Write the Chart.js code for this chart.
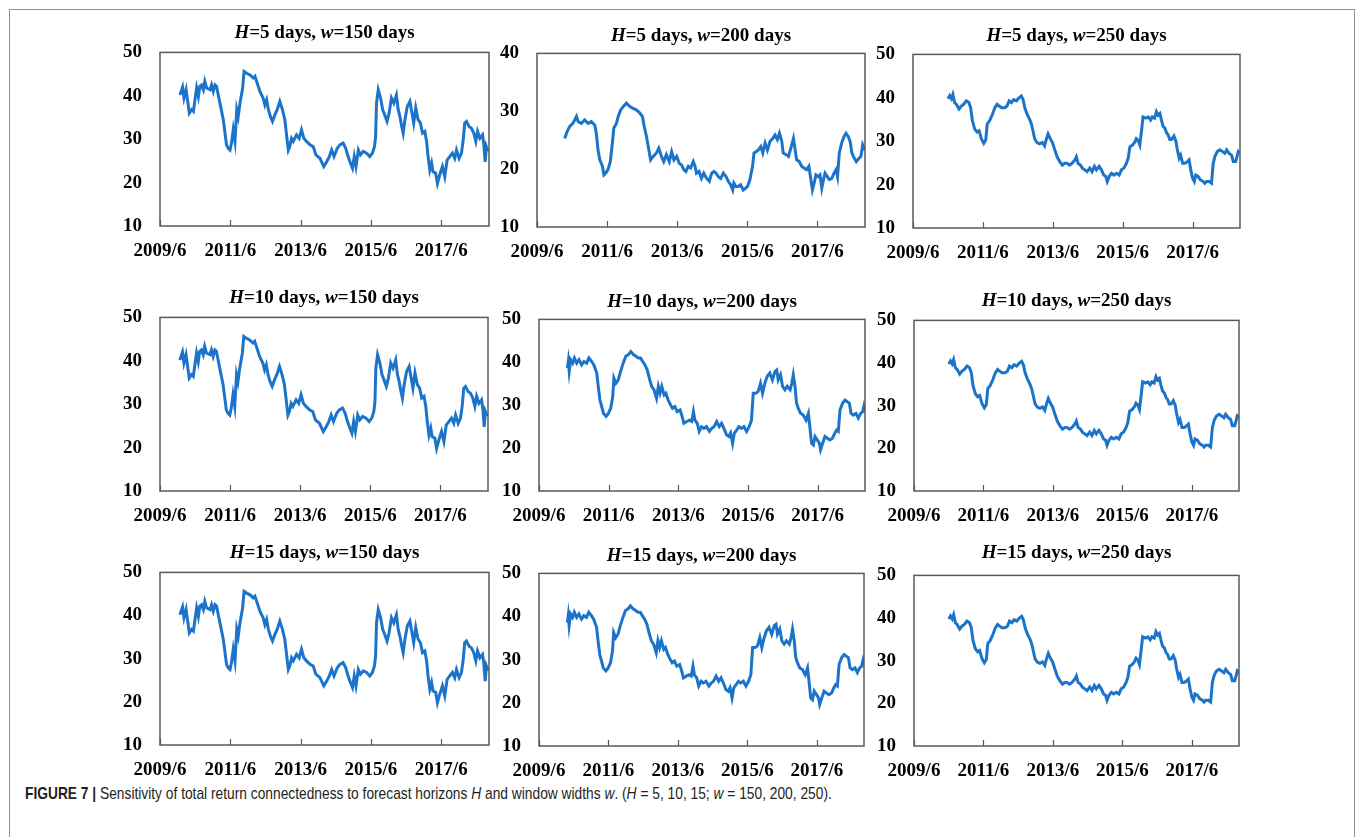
<!DOCTYPE html>
<html>
<head>
<meta charset="utf-8">
<script src="https://cdn.jsdelivr.net/npm/chart.js@4.4.1/dist/chart.umd.min.js"></script>
<style>
  html, body { margin: 0; padding: 0; background: #fff; }
  body { position: relative; width: 1355px; height: 837px; overflow: hidden; }
  .frame { position: absolute; left: 9px; top: 9px; width: 1344px; height: 900px;
           border: 1px solid #8f8f8f; border-bottom: none; }
  canvas { position: absolute; }
  .ttl { position: absolute; transform: translate(-50%, -50%); white-space: nowrap;
         font: bold 19px "Liberation Serif", "Times New Roman", serif; color: #000; line-height: 22px; }
  .caption { position: absolute; left: 25px; top: 784px; white-space: nowrap; color: #231f20;
             font: 17px "Liberation Sans", Arial, sans-serif;
             transform: scaleX(0.81); transform-origin: 0 0; }
  .caption b { font-weight: bold; }
</style>
</head>
<body>
<div class="frame"></div>
<div class="caption"><b>FIGURE 7 |</b> Sensitivity of total return connectedness to forecast horizons <i>H</i> and window widths <i>w</i>. (<i>H</i> = 5, 10, 15; <i>w</i> = 150, 200, 250).</div>

<script>
// x values are months since 2009/6
let tickMonths = [0, 24, 48, 72, 96];
let tickLabels = ['2009/6', '2011/6', '2013/6', '2015/6', '2017/6'];

// w = 150 days (same for H = 5, 10, 15)
let monthsW150 = [6.8,7.7,8.2,8.9,9.7,10.0,10.8,11.4,12.5,13.1,13.6,14.2,14.8,15.3,15.9,17.1,17.6,18.2,18.8,19.3,
  19.9,20.7,21.6,22.2,22.7,23.3,23.9,24.4,25.0,25.6,26.2,26.7,27.3,27.9,28.2,28.7,29.6,30.7,31.8,32.4,
  33.0,34.1,35.2,35.8,36.4,37.0,37.7,38.4,39.2,40.0,40.9,41.8,42.6,43.2,43.8,44.3,44.9,45.5,46.6,47.5,
  48.3,49.1,50.0,51.2,52.3,53.2,54.6,55.9,56.9,57.8,58.6,59.4,60.5,61.4,62.5,63.4,64.2,65.0,65.7,66.3,
  66.9,67.7,68.4,69.4,70.5,71.6,72.5,73.2,73.6,73.9,74.5,75.3,76.0,76.7,77.5,78.2,79.0,79.8,80.7,81.3,
  81.9,82.4,83.0,83.6,84.4,85.3,85.8,86.6,87.3,88.1,88.9,89.6,90.4,91.0,91.5,92.1,92.7,93.2,94.1,94.7,
  95.5,96.4,97.2,98.0,98.9,99.8,100.6,101.2,102.1,102.9,103.5,104.0,104.6,105.5,106.3,107.1,107.8,108.4,109.2,110.1,
  110.5,111.0,111.4,112.0];
let valuesW150 = [40.2,42.0,39.5,41.4,37.5,36.0,36.8,36.4,41.8,39.8,42.2,42.5,41.4,43.3,41.8,41.4,42.5,41.0,42.5,42.2,
  40.2,37.5,34.5,31.4,28.7,27.9,27.5,29.1,32.2,29.5,36.8,35.2,38.3,40.6,41.8,45.6,45.2,44.8,44.1,44.5,
  43.3,41.0,39.5,37.9,39.1,36.8,35.2,34.1,35.6,36.8,38.7,36.8,34.5,31.0,27.5,28.3,30.2,29.5,31.0,30.2,
  32.2,30.2,29.5,28.7,28.3,26.4,25.6,23.7,24.8,26.0,27.5,26.0,27.9,28.7,29.1,27.9,26.0,24.5,23.3,26.0,
  23.7,27.5,26.4,27.2,26.8,26.0,26.8,28.3,30.6,38.3,41.4,39.5,36.8,35.6,34.1,36.0,39.5,38.3,40.2,36.8,
  35.2,33.3,31.4,34.5,37.5,38.7,36.8,33.7,37.2,34.5,33.7,31.4,31.8,29.5,26.0,22.9,24.5,22.5,22.2,19.8,
  21.8,23.7,21.4,25.2,26.0,26.8,25.6,27.5,25.6,26.8,29.8,33.7,34.1,32.9,32.5,31.4,29.5,31.8,30.2,31.0,
  29.1,24.8,28.3,27.2];

// H = 5 days, w = 200 days
let monthsH5W200 = [9.5,10.1,10.6,11.2,12.3,13.5,14.1,15.2,16.3,17.5,18.6,19.8,20.3,20.9,21.5,22.4,22.9,23.5,24.3,25.1,
  25.8,26.3,27.2,27.8,28.6,29.5,30.6,31.8,32.9,34.1,35.2,36.1,36.7,37.5,38.3,38.9,39.8,40.9,41.7,42.6,
  43.4,44.3,45.3,46.1,46.9,47.8,48.7,49.5,50.3,51.0,51.8,52.6,53.5,54.1,54.6,55.5,56.3,57.1,58.1,59.0,
  59.8,60.6,61.3,62.1,62.9,63.8,64.7,65.5,66.3,67.0,67.4,68.1,68.9,69.7,70.6,71.4,72.1,72.9,73.8,74.3,
  75.0,75.8,76.6,77.3,78.1,78.9,79.8,80.7,81.5,82.3,83.0,83.8,84.3,85.3,86.1,86.9,87.8,88.3,88.9,89.8,
  90.6,91.4,92.3,93.1,93.7,94.3,94.9,95.5,96.3,96.9,97.5,98.1,98.6,99.4,100.1,100.9,101.7,102.4,102.9,103.5,
  104.3,105.1,105.8,106.6,107.2,107.8,108.3,109.3,110.1,110.9,111.5,112.0,112.3];
let valuesH5W200 = [25.3,26.2,26.8,27.4,27.9,29.1,28.2,27.9,28.5,27.9,28.2,27.6,26.2,23.3,21.6,20.5,19.0,19.3,19.9,21.3,
  24.5,27.1,27.9,29.1,30.2,30.8,31.4,30.8,30.5,30.2,29.7,29.1,27.4,25.6,23.3,21.6,22.2,22.8,23.6,22.2,
  21.3,22.5,21.3,23.0,21.6,22.2,21.0,20.7,19.9,19.6,20.5,20.2,21.3,20.5,19.3,19.6,18.4,19.3,18.4,17.9,
  19.3,19.6,19.3,18.7,18.4,19.3,18.7,17.9,17.3,16.4,17.6,17.0,17.0,17.3,16.4,16.7,17.0,18.2,20.5,22.8,
  23.0,23.3,23.9,22.8,24.5,23.3,24.8,25.3,25.9,25.1,26.2,24.8,22.8,22.5,22.2,23.6,25.3,23.6,21.6,21.3,
  20.5,20.2,19.9,20.5,18.4,16.4,17.6,19.0,18.7,19.0,16.7,18.2,19.3,18.7,18.2,18.4,19.3,19.9,18.7,22.8,
  24.5,25.6,26.2,25.6,24.8,22.8,22.2,21.3,21.8,22.2,24.2,23.6,23.3];

// H = 10 and 15 days, w = 200 days
let monthsW200 = [9.8,10.1,10.4,10.9,11.6,12.2,13.0,13.8,14.7,15.5,16.4,17.2,18.1,18.9,19.9,20.4,21.0,21.6,22.2,23.1,
  23.9,24.7,25.4,25.8,26.5,27.3,28.1,29.0,29.9,30.8,31.6,32.5,33.4,34.2,35.0,35.7,36.5,37.3,38.0,38.8,
  39.6,40.5,41.1,41.7,42.3,43.1,43.7,44.5,45.3,46.0,46.8,47.6,48.6,49.3,49.9,50.9,51.8,52.6,53.2,53.7,
  54.5,55.2,56.0,56.8,57.7,58.7,59.5,60.3,61.2,62.1,62.9,63.7,64.6,65.4,66.0,66.7,67.3,68.1,68.9,69.7,
  70.6,71.5,72.4,73.2,73.8,74.7,75.5,76.3,77.0,77.8,78.6,79.5,80.4,81.3,81.9,82.4,83.2,83.9,84.7,85.5,
  86.5,87.1,87.6,88.2,88.7,89.3,90.1,91.0,92.0,92.8,93.3,93.9,94.5,95.1,95.9,96.6,97.0,97.7,98.5,99.3,
  100.2,101.1,101.9,102.5,103.1,103.7,104.6,105.4,106.2,106.9,107.5,108.3,109.2,110.0,110.8,111.5,111.9,112.3];
let valuesW200 = [38.6,40.2,37.9,40.6,39.8,41.0,39.8,40.6,39.4,40.2,39.8,41.0,40.2,39.4,37.5,34.4,31.2,29.7,28.1,27.4,
  28.1,29.3,32.0,36.3,35.1,35.9,37.9,39.8,41.4,41.8,42.5,41.8,41.4,41.0,41.0,40.2,39.4,38.2,36.3,34.4,
  33.6,31.6,34.4,32.8,34.4,32.4,32.8,31.2,30.1,29.3,29.7,28.5,28.9,27.4,25.8,26.2,26.5,26.2,28.5,26.5,
  25.8,23.9,25.0,24.6,25.0,23.9,24.6,25.0,26.2,25.0,25.8,24.6,23.1,22.7,23.5,21.1,23.5,24.2,25.0,24.6,
  25.0,23.9,25.0,26.5,32.8,32.8,33.2,35.1,32.8,35.1,36.7,37.5,35.9,37.9,38.2,35.9,37.1,34.4,33.6,34.4,
  33.6,35.1,37.1,34.4,30.5,29.3,28.1,27.7,26.5,28.1,25.0,21.1,20.7,22.7,21.9,21.1,19.6,21.1,22.7,22.3,
  21.9,22.3,23.5,24.2,23.9,28.9,30.5,31.2,30.8,30.5,28.1,27.7,28.1,27.0,28.1,28.5,29.7,28.5];

// w = 250 days (same for H = 5, 10, 15)
let monthsW250 = [12.0,12.6,13.2,13.7,14.3,14.9,15.8,16.6,17.4,18.3,19.2,19.8,20.4,21.2,22.0,22.7,23.5,24.3,25.0,25.5,
  26.3,27.3,28.1,28.9,29.6,30.4,31.5,32.3,33.0,33.8,34.6,35.5,36.4,37.2,37.8,38.4,39.2,40.1,40.7,41.2,
  41.8,42.6,43.5,44.4,45.2,45.8,46.4,47.2,47.9,48.7,49.5,50.4,51.3,52.1,52.9,53.8,54.6,55.6,56.1,56.7,
  57.5,58.2,59.0,59.8,60.7,61.5,62.3,63.0,63.9,64.7,65.5,66.2,66.7,67.4,68.2,69.0,69.9,70.8,71.6,72.4,
  73.3,73.9,74.5,75.4,76.2,76.7,77.3,77.9,78.5,79.0,80.0,80.8,81.6,82.2,83.0,83.6,84.2,84.8,85.3,85.9,
  86.5,87.1,87.6,88.2,88.8,89.6,90.3,90.7,91.4,91.9,92.6,93.4,94.2,94.8,95.4,96.0,96.6,97.1,97.9,98.7,
  99.7,100.2,100.8,101.7,102.5,103.1,103.7,104.5,105.4,106.3,107.1,107.7,108.6,109.4,110.0,110.8,111.3,111.7,112.3];
let valuesW250 = [39.8,40.5,39.8,40.8,38.9,38.5,37.4,38.1,38.5,39.3,38.9,37.7,34.7,32.8,32.1,32.4,30.5,29.5,30.3,34.0,
  34.7,36.2,37.7,38.5,38.1,37.7,37.7,38.1,39.3,38.9,39.6,39.3,40.0,40.4,39.6,37.7,36.2,35.0,33.9,32.4,
  30.5,29.7,29.4,29.7,28.9,30.5,31.7,30.5,29.7,28.0,26.4,25.3,24.5,24.9,24.9,24.5,24.9,25.7,26.4,24.9,
  24.5,23.8,23.4,23.0,23.8,23.0,24.2,23.4,24.2,23.4,22.2,21.9,20.7,21.9,22.6,22.2,22.6,22.2,23.4,23.8,
  24.9,26.1,28.7,29.1,29.8,30.6,30.2,29.1,32.5,35.6,35.3,35.6,34.9,35.6,35.3,36.8,36.0,36.4,34.9,33.4,
  33.0,31.9,31.5,30.4,30.4,31.2,30.0,28.3,26.1,26.8,24.9,24.9,25.3,25.7,23.4,21.5,20.7,22.2,21.9,21.1,
  20.7,20.3,20.7,20.7,20.3,24.9,26.5,27.6,28.0,27.6,27.2,28.0,27.2,26.8,25.3,25.3,26.5,27.6,27.2];

let horizons = ['5', '10', '15'];
let windows = ['150', '200', '250'];
let yMax = [[50, 40, 50], [50, 50, 50], [50, 50, 50]];

function seriesFor(h, w) {
    if (w == 0) return [monthsW150, valuesW150];
    if (w == 2) return [monthsW250, valuesW250];
    if (h == 0) return [monthsH5W200, valuesH5W200];
    return [monthsW200, valuesW200];
}

// plot-area rectangles (left, top, right, bottom) and title centre y
let boxes = [
    [160, 52, 489, 226, 32], [537, 53, 865, 227, 35], [913, 54, 1240, 228, 35],
    [160, 317, 488, 491, 297], [539, 319, 865, 491, 301], [914, 320, 1239, 491, 300],
    [160, 572, 489, 745, 552], [539, 573, 864, 746, 555], [914, 575, 1239, 746, 552]
];

const Y_W = 50, X_H = 44, PAD_R = 6;
const blue = '#1b74c9';
const tickFont = { family: '"Liberation Serif", "Times New Roman", serif', size: 19, weight: 'bold' };

const frameBox = {
    id: 'frameBox',
    afterDraw(chart) {
        const a = chart.chartArea, c = chart.ctx, xs = chart.scales.x;
        c.save();
        c.strokeStyle = '#595959';
        c.lineWidth = 1.5;
        c.strokeRect(a.left, a.top, a.right - a.left, a.bottom - a.top);
        c.lineWidth = 1.2;
        c.beginPath();
        xs.ticks.forEach(t => {
            const px = Math.round(xs.getPixelForValue(t.value)) + 0.5;
            c.moveTo(px, a.bottom);
            c.lineTo(px, a.bottom - 6);
        });
        c.stroke();
        c.restore();
    }
};

function drawPanel(h, w) {
    const b = boxes[h * 3 + w];
    const [months, vals] = seriesFor(h, w);
    const pts = [];
    for (let i = 0; i < Math.min(months.length, vals.length); i++) pts.push({ x: months[i], y: vals[i] });

    const cv = document.createElement('canvas');
    const cw = Y_W + (b[2] - b[0]) + PAD_R, ch = 30 + (b[3] - b[1]) + X_H;
    cv.width = cw; cv.height = ch;
    cv.style.width = cw + 'px'; cv.style.height = ch + 'px';
    document.body.appendChild(cv);

    const t = document.createElement('div');
    t.className = 'ttl';
    t.style.left = ((b[0] + b[2]) / 2) + 'px';
    t.style.top = b[4] + 'px';
    t.innerHTML = '<i>H</i>=' + horizons[h] + ' days, <i>w</i>=' + windows[w] + ' days';
    document.body.appendChild(t);

    const chart = new Chart(cv.getContext('2d'), {
        type: 'line',
        data: {
            datasets: [{
                data: pts,
                borderColor: blue,
                borderWidth: 3,
                pointRadius: 0,
                tension: 0,
                fill: false
            }]
        },
        options: {
            responsive: false,
            maintainAspectRatio: false,
            animation: false,
            devicePixelRatio: 1,
            layout: { padding: { top: 0, right: PAD_R, left: 0, bottom: 0 } },
            plugins: { legend: { display: false }, tooltip: { enabled: false }, title: { display: false } },
            scales: {
                x: {
                    type: 'linear',
                    min: 0,
                    max: 112.3,
                    afterBuildTicks: s => { s.ticks = tickMonths.map(v => ({ value: v })); },
                    afterFit: s => { s.height = X_H; },
                    grid: { display: false, drawTicks: false },
                    border: { display: false },
                    ticks: {
                        padding: 14,
                        color: '#000',
                        font: tickFont,
                        maxRotation: 0,
                        autoSkip: false,
                        callback: (v, i) => tickLabels[i]
                    }
                },
                y: {
                    min: 10,
                    max: yMax[h][w],
                    afterFit: s => { s.width = Y_W; },
                    grid: { display: false, drawTicks: false },
                    border: { display: false },
                    ticks: { stepSize: 10, padding: 18, color: '#000', font: tickFont }
                }
            }
        },
        plugins: [frameBox]
    });

    // fit the canvas so the plot area lands on the measured rectangle
    let ca = chart.chartArea;
    const dw = (b[2] - b[0]) - (ca.right - ca.left);
    const dh = (b[3] - b[1]) - (ca.bottom - ca.top);
    if (Math.abs(dw) > 0.5 || Math.abs(dh) > 0.5) {
        chart.resize(Math.round(cw + dw), Math.round(ch + dh));
        ca = chart.chartArea;
    }
    cv.style.left = (b[0] - ca.left) + 'px';
    cv.style.top = (b[1] - ca.top) + 'px';
}

for (let h = 0; h < 3; h++) {
    for (let w = 0; w < 3; w++) drawPanel(h, w);
}
</script>
</body>
</html>
